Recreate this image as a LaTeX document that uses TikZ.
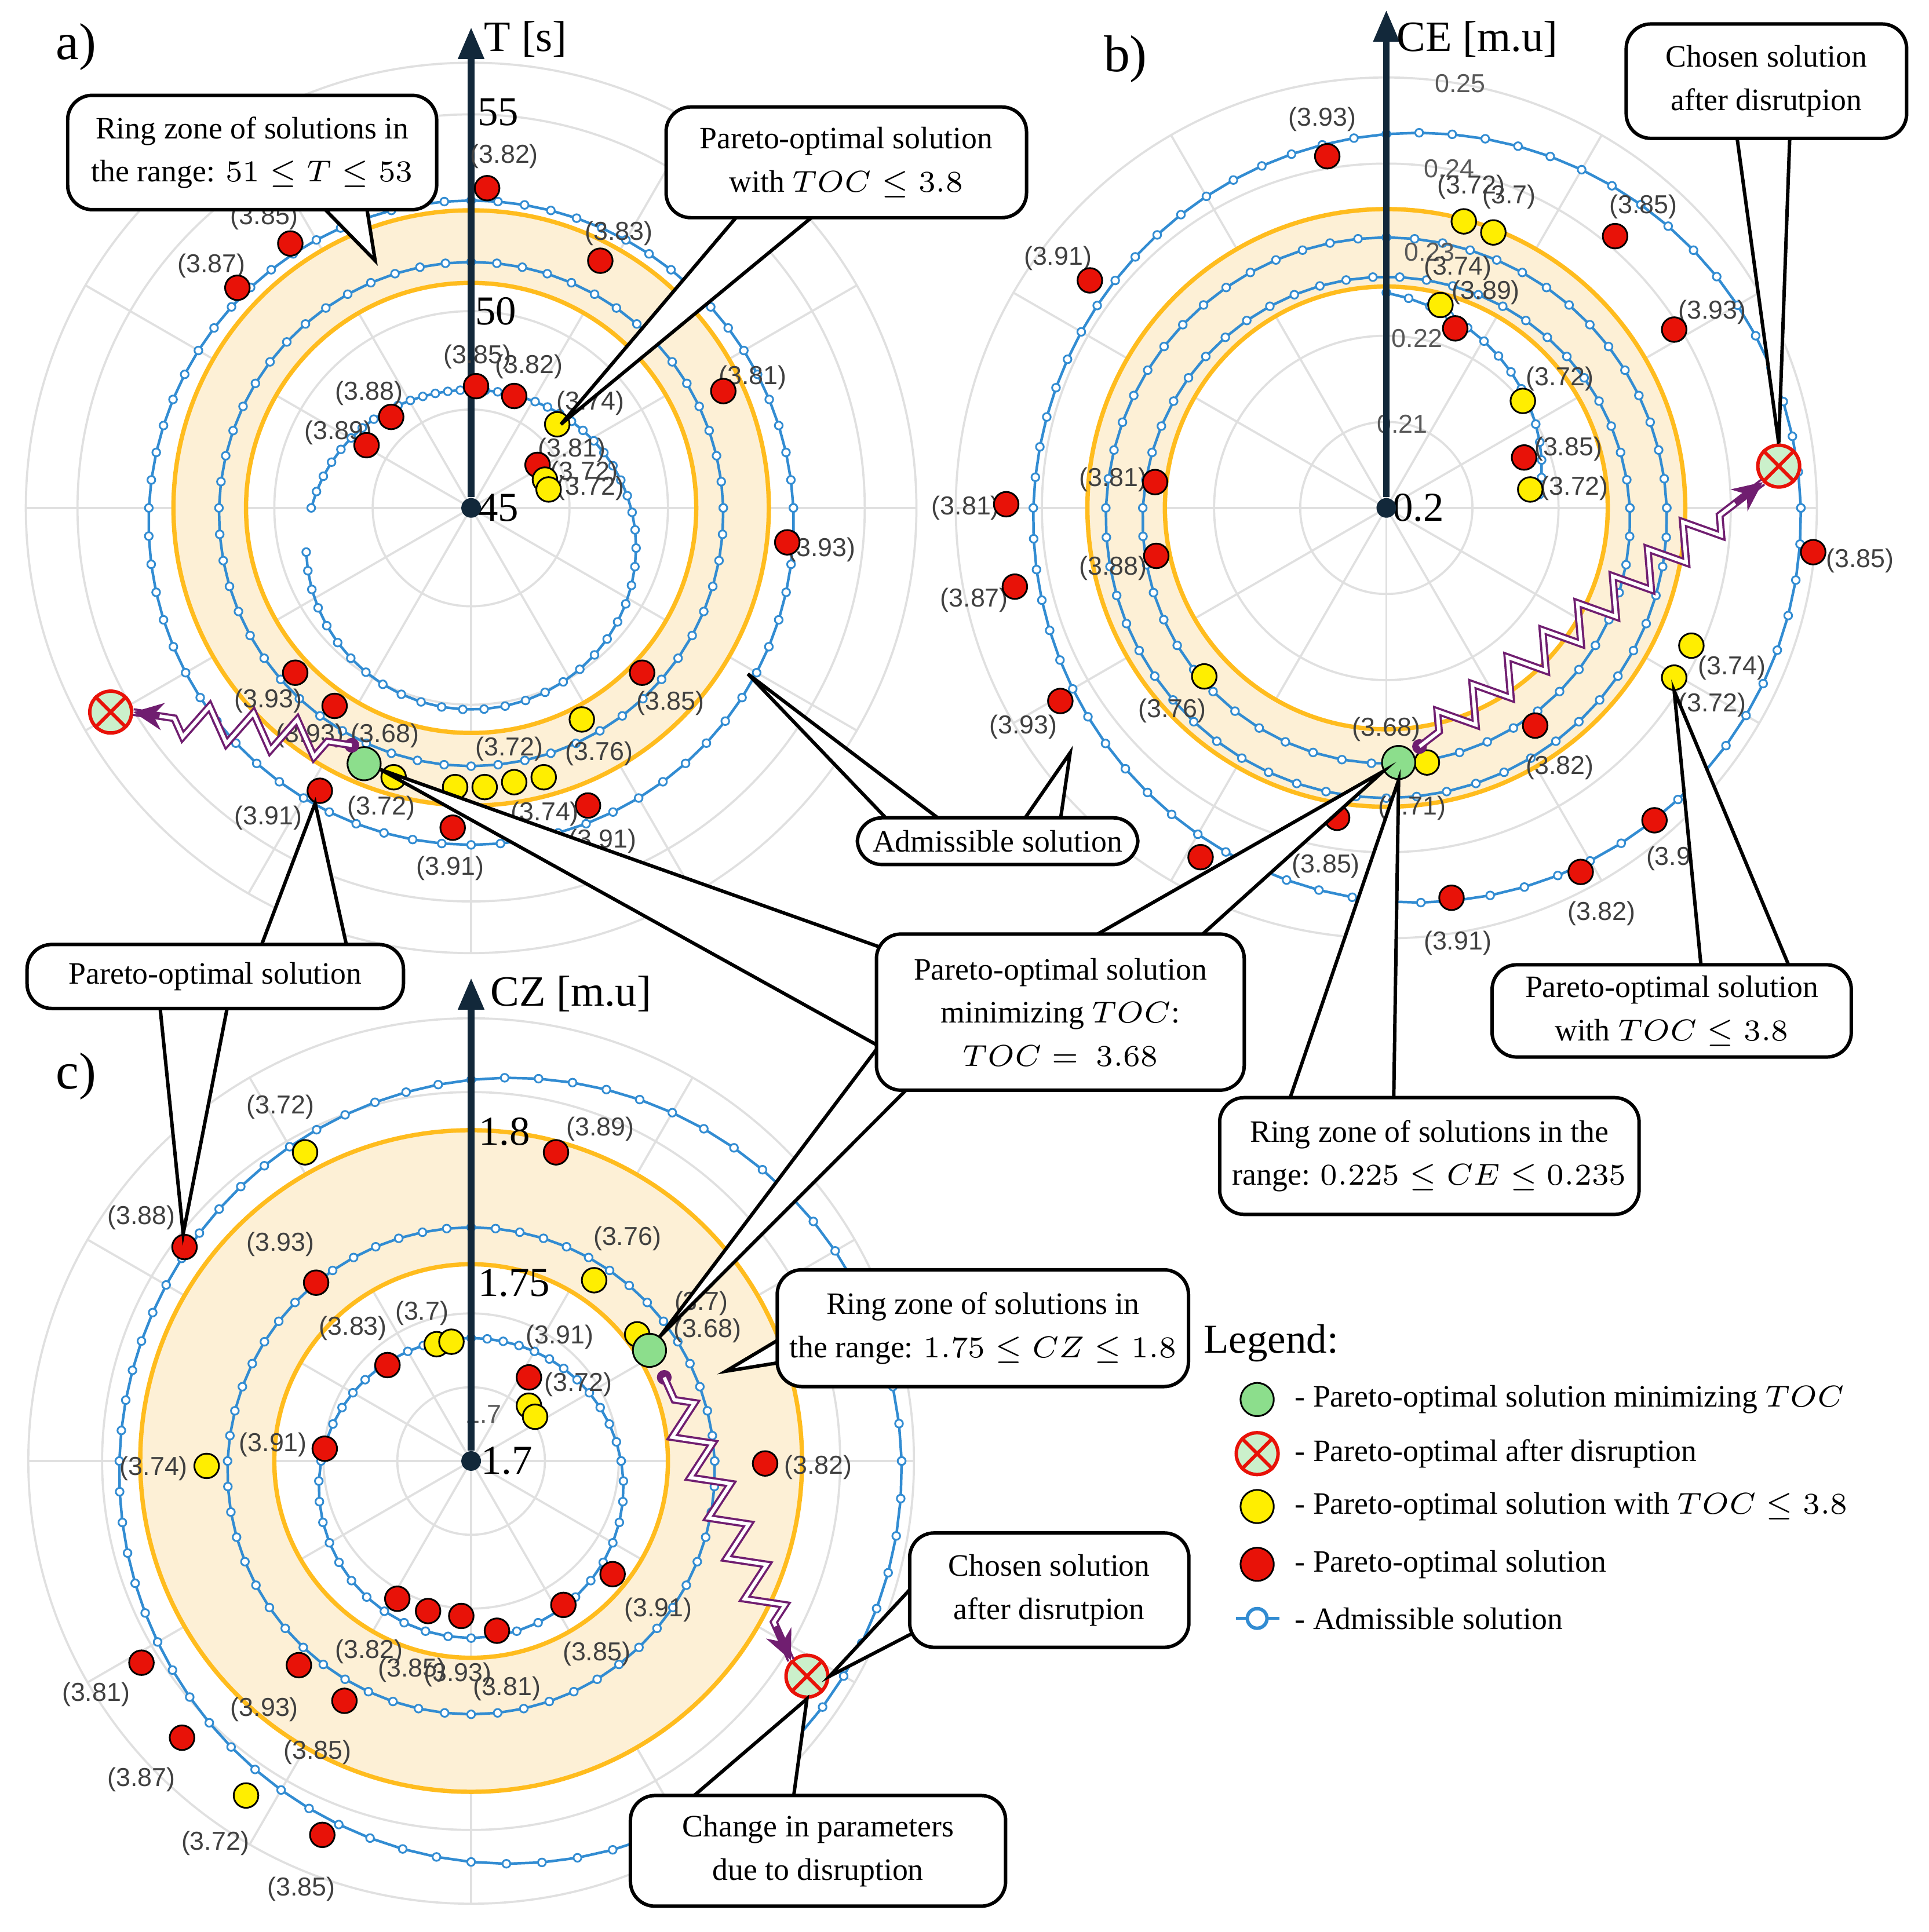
\documentclass[tikz,border=0pt]{standalone}
\usepackage{amsmath}
\usepackage{fontspec}
\setmainfont{Liberation Serif}
\newfontfamily\lblfont{Liberation Sans}
\usetikzlibrary{arrows.meta,decorations.pathmorphing,calc}
\definecolor{ringor}{RGB}{255,188,30}
\definecolor{ringfill}{RGB}{253,240,214}
\definecolor{admblue}{RGB}{50,140,210}
\definecolor{ptred}{RGB}{232,18,8}
\definecolor{ptyel}{RGB}{255,238,0}
\definecolor{ptgreen}{RGB}{140,222,140}
\definecolor{axnavy}{RGB}{18,40,58}
\definecolor{zzpurple}{RGB}{112,30,112}

\begin{document}
\begin{tikzpicture}[
  x=0.1mm, y=-0.1mm,
  grid/.style={draw=black!12, line width=0.5pt},
  ring/.style={draw=ringor, line width=1pt, fill=ringfill, even odd rule},
  adm/.style={draw=admblue, line width=0.6pt},
  admk/.style={mark=*, mark size=0.9pt, mark options={solid, draw=admblue, fill=white, line width=0.4pt}},
  rpt/.style={circle, draw=black, fill=ptred, minimum size=2mm, inner sep=0pt},
  ypt/.style={rpt, fill=ptyel},
  gpt/.style={rpt, fill=ptgreen, minimum size=2.7mm},
  xpt/.style={circle, draw=ptred, line width=0.8pt, fill=ptgreen!45, minimum size=3.4mm, inner sep=0pt},
  lbl/.style={font=\lblfont\fontsize{6}{7}\selectfont, text=black!75, inner sep=0pt},
  scl/.style={font=\fontsize{9.5}{10}\selectfont, inner sep=0pt},
  sscl/.style={font=\lblfont\fontsize{6}{7}\selectfont, text=black!65, inner sep=0pt},
  axis/.style={-{Triangle[length=2.6mm,width=2mm]}, line width=1.6pt, draw=axnavy},
  axlbl/.style={font=\fontsize{10}{11}\selectfont, anchor=west, inner sep=0pt},
  call/.style={draw, rounded corners=2mm, fill=white, align=center,
    font=\fontsize{7.2}{10}\selectfont, line width=0.8pt, inner sep=0pt},
  wedge/.style={draw=black, fill=white, line width=0.8pt, line join=miter},
  zz/.style={draw=zzpurple, double=white, double distance=0.8pt, line width=0.5pt,
    decorate, decoration={zigzag, amplitude=1.4mm, segment length=3.6mm, pre length=2mm, post length=3mm}},
  zztip/.style={-{Stealth[length=2.4mm,width=2.2mm]}, draw=zzpurple, line width=1.3pt},
  legtxt/.style={font=\fontsize{7.2}{9}\selectfont, anchor=west, inner sep=0pt},
]
\useasboundingbox (0,0) rectangle (1568,1571);

% ---------- a) T ----------
\begin{scope}[shift={(383,413)}]
  \foreach \r in {80,160,240,320,362} \draw[grid] (0,0) circle (\r);
  \foreach \a in {0,30,...,330} \draw[grid] (0,0) -- (\a:362);
  \draw[ring] (0,0) circle (242) (0,0) circle (183);
  \draw[adm] plot[admk, domain=0:360, samples=73] (\x:{262+12*sin(\x)});
  \draw[adm] plot[admk, domain=0:360, samples=61] (\x:{205+5*sin(\x)});
  \draw[adm] plot[admk, domain=-180:165, samples=58] (\x:{130+34*sin(\x)});
\end{scope}
\node[scl] (sa0) at (405,413) {45};
\node[scl] (sa1) at (403,253) {50};
\node[scl] (sa2) at (405,91) {55};
\node[circle, fill=axnavy, minimum size=1.6mm, inner sep=0pt] (oa) at (383,413) {};
\coordinate (ta) at (383,22);
\draw[axis] (oa) -- (ta);
\node[axlbl] (la) at (393,32) {T [s]};
\node[font=\fontsize{12}{12}\selectfont] (pa) at (62,38) {a)};

% ---------- b) CE ----------
\begin{scope}[shift={(1127,413)}]
  \foreach \r in {70,140,210,280,350} \draw[grid] (0,0) circle (\r);
  \foreach \a in {0,30,...,330} \draw[grid] (0,0) -- (\a:350);
  \draw[ring] (0,0) circle (243) (0,0) circle (180);
  \draw[adm] plot[admk, domain=0:360, samples=73] (\x:{312+25*cos(\x)+8*sin(\x)});
  \draw[adm] plot[admk, domain=0:360, samples=61] (\x:{228+8*sin(\x)});
  \draw[adm] plot[admk, domain=0:360, samples=55] (\x:{198+10*sin(\x)});
  \draw[adm] plot[admk, domain=-90:-5, samples=15] (\x:{175-50*(\x+90)/85});
\end{scope}
\node[sscl] (sb1) at (1187,68) {0.25};
\node[sscl] (sb2) at (1178,137) {0.24};
\node[sscl] (sb3) at (1162,205) {0.23};
\node[sscl] (sb4) at (1152,275) {0.22};
\node[sscl] (sb5) at (1140,345) {0.21};
\node[scl] (sb0) at (1153,413) {0.2};
\node[circle, fill=axnavy, minimum size=1.6mm, inner sep=0pt] (ob) at (1127,413) {};
\coordinate (tb) at (1127,8);
\draw[axis] (ob) -- (tb);
\node[axlbl] (lb) at (1135,32) {CE [m.u]};
\node[font=\fontsize{12}{12}\selectfont] (pb) at (915,48) {b)};

% ---------- c) CZ ----------
\begin{scope}[shift={(383,1188)}]
  \foreach \r in {60,120,180,240,300,360} \draw[grid] (0,0) circle (\r);
  \foreach \a in {0,30,...,330} \draw[grid] (0,0) -- (\a:360);
  \draw[ring] (0,0) circle (269) (0,0) circle (160);
  \draw[adm] plot[admk, domain=0:360, samples=73] (\x:{318+32*cos(\x)+8*sin(\x)});
  \draw[adm] plot[admk, domain=0:360, samples=61] (\x:{198+8*sin(\x)});
  \draw[adm] plot[admk, domain=0:360, samples=49] (\x:{122+22*sin(\x)});
\end{scope}
\node[scl] (sc1) at (410,920) {1.8};
\node[scl] (sc2) at (418,1043) {1.75};
\node[sscl] (sc3) at (393,1150) {1.7};
\node[scl] (sc0) at (412,1188) {1.7};
\node[circle, fill=axnavy, minimum size=1.6mm, inner sep=0pt] (oc) at (383,1188) {};
\coordinate (tc) at (383,795);
\draw[axis] (oc) -- (tc);
\node[axlbl] (lc) at (398,808) {CZ [m.u]};
\node[font=\fontsize{12}{12}\selectfont] (pc) at (62,875) {c)};

% ---------- points ----------
\foreach \px/\py/\lx/\ly/\t [count=\i] in {
  396/153/410/127/(3.82), 488/212/503/190/(3.83), 236/198/215/177/(3.85),
  193/234/172/216/(3.87), 588/318/612/307/(3.81), 640/441/668/447/(3.93),
  387/314/388/290/(3.85), 418/322/430/298/(3.82), 318/339/300/320/(3.88),
  298/362/275/352/(3.89), 437/378/465/366/(3.81), 522/547/545/572/(3.85),
  240/547/218/570/(3.93), 272/574/252/598/(3.93), 260/643/218/665/(3.91),
  368/673/366/706/(3.91), 478/655/490/684/(3.91),
  1079/127/1075/97/(3.93), 1313/192/1336/168/(3.85), 886/228/860/210/(3.91),
  1361/268/1392/254/(3.93), 1183/267/1208/238/(3.89), 1239/372/1275/365/(3.85),
  939/392/905/390/(3.81), 818/410/785/413/(3.81), 825/477/792/488/(3.87),
  940/452/905/462/(3.88), 1474/449/1512/456/(3.85), 862/570/832/591/(3.93),
  1248/590/1268/624/(3.82), 1087/665/1078/704/(3.85), 1345/667/1360/698/(3.9),
  1285/709/1302/743/(3.82), 1180/730/1185/767/(3.91),
  452/937/488/918/(3.89), 150/1014/115/990/(3.88), 257/1043/228/1012/(3.93),
  315/1110/287/1080/(3.83), 430/1120/455/1087/(3.91), 622/1190/665/1193/(3.82),
  264/1178/222/1175/(3.91), 498/1280/535/1309/(3.91), 458/1305/485/1345/(3.85),
  404/1326/412/1373/(3.81), 375/1314/372/1362/(3.93), 348/1310/335/1358/(3.85),
  323/1300/300/1343/(3.82), 243/1354/215/1390/(3.93), 280/1383/258/1425/(3.85),
  115/1352/78/1378/(3.81), 148/1413/115/1447/(3.87), 262/1492/245/1536/(3.85)}
{
  \node[lbl] (lr\i) at (\lx,\ly) {\t};
  \node[rpt] (r\i) at (\px,\py) {};
}
\foreach \px/\py/\lx/\ly/\t [count=\i] in {
  453/345/480/328/(3.74), 443/390/475/385/(3.72), 446/398/480/397/(3.72),
  320/632/310/657/(3.72), 394/640/414/609/(3.72), 442/632/443/662/(3.74),
  473/585/487/613/(3.76),
  1190/180/1196/152/(3.72), 1214/189/1227/160/(3.7), 1171/248/1185/218/(3.74),
  1238/326/1268/308/(3.72), 1244/398/1280/397/(3.72), 1375/525/1408/543/(3.74),
  1361/551/1392/573/(3.72), 979/550/953/578/(3.76), 1160/620/1148/657/(3.71),
  248/937/228/900/(3.72), 483/1041/510/1007/(3.76), 355/1093/343/1068/(3.7),
  430/1143/470/1126/(3.72), 518/1085/570/1060/(3.7), 168/1192/125/1194/(3.74),
  200/1460/175/1499/(3.72)}
{
  \node[lbl] (ly\i) at (\lx,\ly) {\t};
  \node[ypt] (y\i) at (\px,\py) {};
}
\foreach \px/\py [count=\i] in {370/640, 418/636, 367/1091, 435/1152}
  \node[ypt] (yy\i) at (\px,\py) {};
\node[rpt] (rr1) at (976,697) {};
\node[lbl] (lg1) at (313,598) {(3.68)};
\node[lbl] (lg2) at (1127,593) {(3.68)};
\node[lbl] (lg3) at (575,1082) {(3.68)};
\node[gpt] (ga) at (296,621) {};
\node[gpt] (gb) at (1137,620) {};
\node[gpt] (gc) at (528,1098) {};

% ---------- disruption moves ----------
\node[xpt] (xa) at (90,579) {};
\node[xpt] (xb) at (1446,379) {};
\node[xpt] (xc) at (656,1363) {};
\foreach \n in {xa,xb,xc}
  \draw[ptred, line width=0.8pt] (\n.north west) -- (\n.south east) (\n.north east) -- (\n.south west);
\coordinate (za) at (286,606);
\coordinate (zb) at (1154,607);
\coordinate (zc) at (540,1120);
\fill[zzpurple] (za) circle (6) (zb) circle (6) (zc) circle (6);
\draw[zz] (za) -- (xa.east);
\draw[zztip] ($(xa.east)!0.12!(za)$) -- (xa.east);
\draw[zz] (zb) -- (xb.south west);
\draw[zztip] ($(xb.south west)!0.08!(zb)$) -- (xb.south west);
\draw[zz] (zc) -- (xc.north west);
\draw[zztip] ($(xc.north west)!0.12!(zc)$) -- (xc.north west);

% ---------- callouts ----------
\draw[wedge] (305,212) -- (262,168) -- (298,168) -- cycle;
\draw[wedge] (456,345) -- (600,175) -- (662,175) -- cycle;
\draw[wedge] (xb.north) -- (1412,111) -- (1455,111) -- cycle;
\draw[wedge] (608,548) -- (722,667) -- (765,667) -- cycle;
\draw[wedge] (870,612) -- (832,667) -- (862,667) -- cycle;
\draw[wedge] (r15) -- (212,770) -- (282,770) -- cycle;
\draw[wedge] (r36) -- (130,818) -- (185,818) -- cycle;
\draw[wedge] (ga) -- (715,770) -- (735,862) -- cycle;
\draw[wedge] (gb) -- (888,762) -- (975,762) -- cycle;
\draw[wedge] (gc) -- (715,850) -- (738,885) -- cycle;
\draw[wedge] (gb.south) -- (1048,895) -- (1133,895) -- cycle;
\draw[wedge] (y14.south) -- (1383,787) -- (1455,787) -- cycle;
\draw[wedge] (590,1115) -- (652,1078) -- (652,1105) -- cycle;
\draw[wedge] (xc.east) -- (742,1290) -- (742,1328) -- cycle;
\draw[wedge] (xc.south) -- (562,1462) -- (645,1462) -- cycle;

\node[call, minimum width=30mm, minimum height=9.3mm] (ca1) at (205,124)
  {Ring zone of solutions in\\the range: $51 \le T \le 53$};
\node[call, minimum width=29.3mm, minimum height=9mm] (ca2) at (688,132)
  {Pareto-optimal solution\\with $TOC \le 3.8$};
\node[call, minimum width=22.8mm, minimum height=9.3mm] (cb1) at (1436,66)
  {Chosen solution\\after disrutpion};
\node[call, minimum width=22.8mm, minimum height=3.8mm] (cad) at (811,684)
  {Admissible solution};
\node[call, minimum width=30.6mm, minimum height=5.2mm] (cap) at (175,794)
  {Pareto-optimal solution};
\node[call, minimum width=29.9mm, minimum height=12.7mm] (cmin) at (862,823)
  {Pareto-optimal solution\\minimizing $TOC$:\\$TOC = \ 3.68$};
\node[call, minimum width=34.1mm, minimum height=9.5mm] (cb2) at (1162,940)
  {Ring zone of solutions in the\\range: $0.225 \le CE \le 0.235$};
\node[call, minimum width=29.2mm, minimum height=7.5mm] (cb3) at (1359,822)
  {Pareto-optimal solution\\with $TOC \le 3.8$};
\node[call, minimum width=29.8mm, minimum height=9.5mm, inner xsep=1mm] (cc1) at (799,1080)
  {Ring zone of solutions in\\the range: $1.75 \le CZ \le 1.8$};
\node[call, minimum width=22.7mm, minimum height=9.3mm] (cc2) at (853,1293)
  {Chosen solution\\after disrutpion};
\node[call, minimum width=30.5mm, minimum height=9mm] (cc3) at (665,1505)
  {Change in parameters\\due  to disruption};

% ---------- legend ----------
\node[legtxt, font=\fontsize{9.5}{10}\selectfont] (leg) at (978,1092) {Legend:};
\node[gpt] (lg) at (1022,1138) {};
\node[legtxt] (lgt) at (1052,1138) {- Pareto-optimal solution minimizing $TOC$};
\node[xpt] (lx) at (1022,1182) {};
\draw[ptred, line width=0.8pt] (lx.north west) -- (lx.south east) (lx.north east) -- (lx.south west);
\node[legtxt] (lxt) at (1052,1182) {- Pareto-optimal after disruption};
\node[ypt, minimum size=2.7mm] (ly) at (1022,1225) {};
\node[legtxt] (lyt) at (1052,1225) {- Pareto-optimal solution with $TOC \le 3.8$};
\node[rpt, minimum size=2.7mm] (lr) at (1022,1272) {};
\node[legtxt] (lrt) at (1052,1272) {- Pareto-optimal solution};
\coordinate (lb1) at (1005,1316);
\coordinate (lb2) at (1040,1316);
\draw[adm] (lb1) -- (lb2);
\node[adm, circle, draw, fill=white, line width=0.8pt, minimum size=1.6mm, inner sep=0pt] (lbm) at (1022,1316) {};
\node[legtxt] (lbt) at (1052,1316) {- Admissible solution};
\end{tikzpicture}
\end{document}
